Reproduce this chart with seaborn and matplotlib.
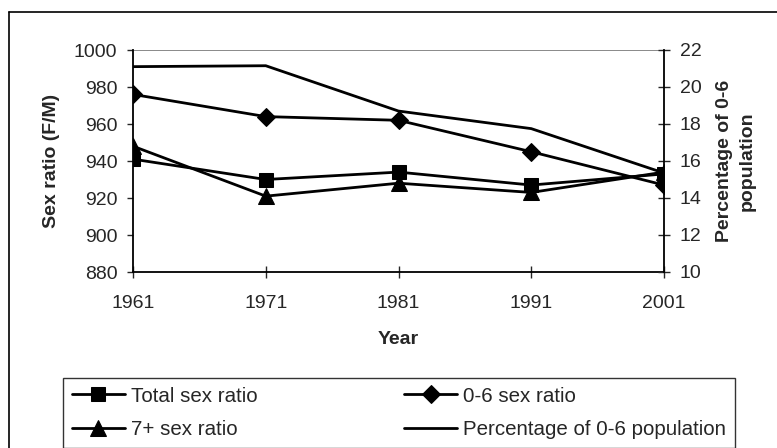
import pandas as pd
import numpy as np
import matplotlib.pyplot as plt
import seaborn as sns
from matplotlib.lines import Line2D

# data
years = [1961, 1971, 1981, 1991, 2001]
total_sex_ratio = [941, 930, 934, 927, 933]
sex_ratio_0_6 = [976, 964, 962, 945, 927]
sex_ratio_7plus = [948, 921, 928, 923, 934]
pct_0_6_population = [21.1, 21.15, 18.7, 17.75, 15.35]

sns.set_style("white")
plt.rcParams['font.family'] = ['Liberation Sans', 'DejaVu Sans']
FS = 14

fig = plt.figure(figsize=(7.77, 4.48), dpi=100)
W, H = 777, 448
ax = fig.add_axes([133/W, 1 - 272/H, (664 - 133)/W, (272 - 50)/H])
ax2 = ax.twinx()

# outer frame of the chart (only top and left edges fall inside the image)
fig.add_artist(Line2D([9/W, 1], [1 - 12/H, 1 - 12/H], transform=fig.transFigure,
                      color='black', linewidth=1.2))
fig.add_artist(Line2D([9/W, 9/W], [0, 1 - 12/H], transform=fig.transFigure,
                      color='black', linewidth=1.2))

sns.lineplot(x=years, y=total_sex_ratio, ax=ax, color='black', marker='s', markersize=10,
             linewidth=2, markeredgecolor='black', label='Total sex ratio', legend=False)
sns.lineplot(x=years, y=sex_ratio_0_6, ax=ax, color='black', marker='D', markersize=9,
             linewidth=2, markeredgecolor='black', label='0-6 sex ratio', legend=False)
sns.lineplot(x=years, y=sex_ratio_7plus, ax=ax, color='black', marker='^', markersize=11,
             linewidth=2, markeredgecolor='black', label='7+ sex ratio', legend=False)
sns.lineplot(x=years, y=pct_0_6_population, ax=ax2, color='black', linewidth=2,
             label='Percentage of 0-6 population', legend=False)

ax.set_xlim(1961, 2001)
ax.set_ylim(880, 1000)
ax2.set_ylim(10, 22)
ax.set_xticks(years)
ax.set_yticks(np.arange(880, 1001, 20))
ax2.set_yticks(np.arange(10, 23, 2))

for a in (ax, ax2):
    for s in a.spines.values():
        s.set_visible(False)
for s in ('left', 'bottom'):
    ax.spines[s].set_visible(True)
    ax.spines[s].set_color('black')
    ax.spines[s].set_linewidth(1.3)
ax2.spines['right'].set_visible(True)
ax2.spines['right'].set_color('black')
ax2.spines['right'].set_linewidth(1.3)
ax.axhline(1000, color='gray', linewidth=1.3)

ax.tick_params(axis='x', direction='inout', length=8.6, width=1, labelsize=FS, pad=12, bottom=True)
ax.tick_params(axis='y', direction='out', length=4.3, width=1, labelsize=FS, pad=7, left=True)
ax2.tick_params(axis='y', direction='inout', length=8.6, width=1, labelsize=FS, pad=7, right=True)

ax.set_xlabel('Year', fontsize=FS, fontweight='bold', labelpad=14)
ax.set_ylabel('Sex ratio (F/M)', fontsize=FS, fontweight='bold', labelpad=10)
ax2.set_ylabel('Percentage of 0-6\npopulation', fontsize=FS, fontweight='bold', labelpad=10.5,
               linespacing=1.45)

handles, labels = [], []
for a in (ax, ax2):
    h, l = a.get_legend_handles_labels()
    handles += h
    labels += l
order = [0, 2, 1, 3]
leg = fig.legend([handles[i] for i in order], [labels[i] for i in order], ncol=2,
                 loc='upper left', bbox_to_anchor=(63/W, 1 - 378/H), fontsize=14.8,
                 frameon=True, fancybox=False, edgecolor='black', handlelength=2.6,
                 handletextpad=0.3, columnspacing=7.1, borderpad=0.42, labelspacing=0.7,
                 borderaxespad=0)
leg.get_frame().set_linewidth(1.0)

plt.savefig('out.png', dpi=100)
